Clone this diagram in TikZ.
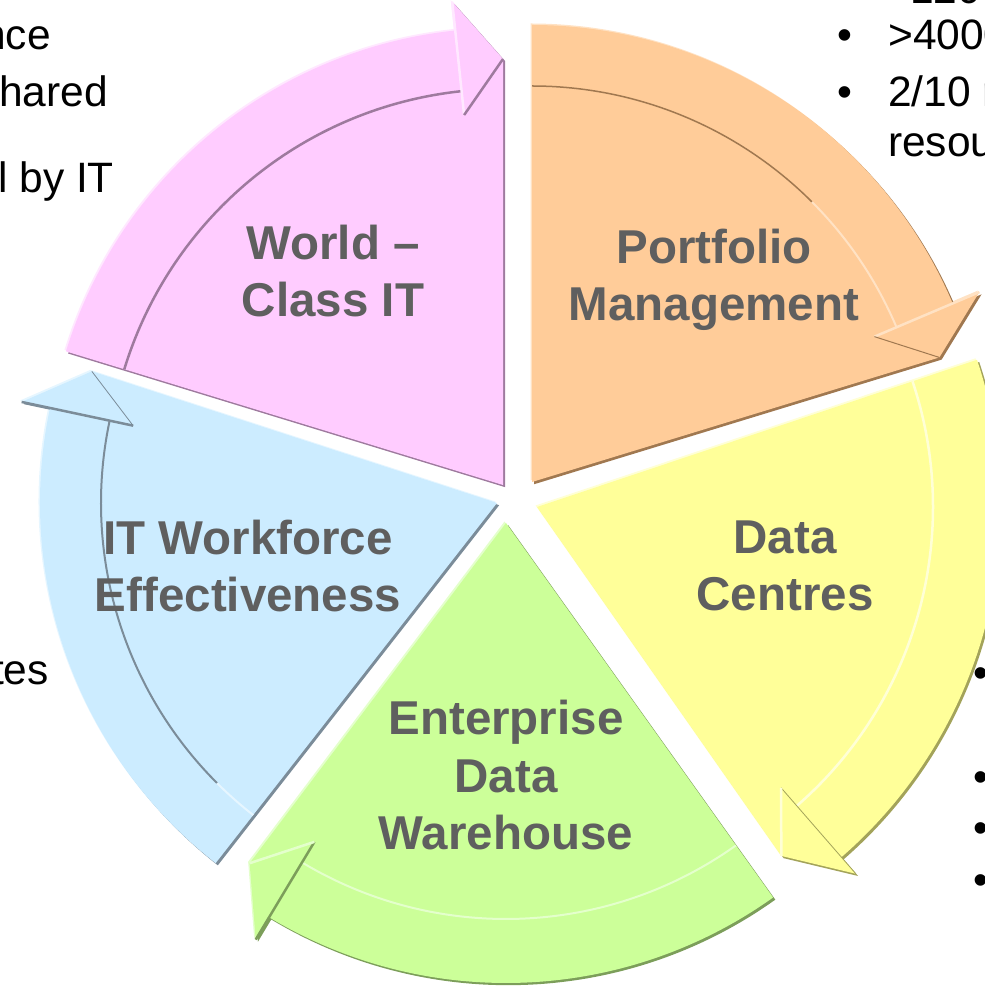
\documentclass[tikz,border=0pt]{standalone}
\usepackage{fontspec}
\setmainfont{Liberation Sans}
\definecolor{pinkfill}{HTML}{FFCCFF}
\definecolor{pinkdark}{HTML}{9E7A9E}
\definecolor{pinklight}{HTML}{FFE8FF}
\definecolor{orangefill}{HTML}{FFCC99}
\definecolor{orangedark}{HTML}{A07850}
\definecolor{orangelight}{HTML}{FFE2C4}
\definecolor{yellowfill}{HTML}{FFFF99}
\definecolor{yellowdark}{HTML}{A3A35A}
\definecolor{yellowlight}{HTML}{FFFFD6}
\definecolor{greenfill}{HTML}{CCFF99}
\definecolor{greendark}{HTML}{7C9E5A}
\definecolor{greenlight}{HTML}{E4FFCC}
\definecolor{bluefill}{HTML}{CCECFF}
\definecolor{bluedark}{HTML}{7B8C99}
\definecolor{bluelight}{HTML}{E6F6FF}
\definecolor{labelgray}{HTML}{5F5F5F}
\def\Rout{457}
\def\Rin{396}
\def\Rt{426}
\def\Rhi{372}
\def\Rho{486}
% #1 = tip angle, #2 = head base angle, #3 = segment start angle
\newcommand\segshape[3]{(0,0) -- (#3:\Rout) arc[start angle=#3, end angle=#2, radius=\Rout] -- (#2:\Rho) -- (#1:\Rt) -- cycle}
\newcommand\cycseg[6]{%
  \fill[#6, shift={(-1.5,1.5)}] \segshape{#1}{#2}{#3};
  \fill[#5, shift={(2.2,-2.2)}] \segshape{#1}{#2}{#3};
  \fill[#4] \segshape{#1}{#2}{#3};
}
\begin{document}
\begin{tikzpicture}[x=1pt,y=1pt,
  lbl/.style={font=\fontsize{47.5}{57.5}\selectfont\bfseries, text=labelgray, align=center, inner sep=0pt},
  side/.style={font=\fontsize{42.5}{50}\selectfont, text=black, inner sep=0pt}]
\useasboundingbox (0,0) rectangle (985,986);
\clip (0,0) rectangle (985,986);

% blue segment
\begin{scope}[shift={(497,483)}]
  \cycseg{162}{168}{232}{bluefill}{bluedark}{bluelight}
  \draw[bluelight, line width=2] (232:\Rin) arc[start angle=232, end angle=225, radius=\Rin];
  \draw[bluedark, line width=2] (225:\Rin) arc[start angle=225, end angle=168, radius=\Rin];
  \draw[bluedark, line width=2.5] (168:\Rhi) -- (168:\Rho);
  \draw[bluedark, line width=0.8] (162:\Rt) -- (168:\Rhi);
\end{scope}

% green segment
\begin{scope}[shift={(506,463)}]
  \def\Rout{460}
  \cycseg{-127}{-121}{-54.5}{greenfill}{greendark}{greenlight}
  \draw[greenlight, line width=2] (-54.5:\Rin) arc[start angle=-54.5, end angle=-121, radius=\Rin];
  \draw[greendark, line width=2.5] (-121:\Rhi) -- (-121:\Rho);
  \draw[greenlight, line width=2.5] (-127:\Rt) -- (-121:\Rhi);
\end{scope}

% yellow segment
\begin{scope}[shift={(537,479)}]
  \def\Rout{464}
  \cycseg{-55}{-49}{18.5}{yellowfill}{yellowdark}{yellowlight}
  \draw[yellowlight, line width=2.5] (18.5:\Rin) arc[start angle=18.5, end angle=-49, radius=\Rin];
  \draw[yellowdark, line width=0.8] (-49:\Rhi) -- (-49:\Rho);
  \draw[yellowlight, line width=2.5] (-55:\Rt) -- (-49:\Rhi);
\end{scope}

% orange segment
\begin{scope}[shift={(532,504)}]
  \cycseg{17}{23}{90}{orangefill}{orangedark}{orangelight}
  \draw[orangedark, line width=1.5] (90:\Rin) arc[start angle=90, end angle=45, radius=\Rin];
  \draw[orangelight, line width=2] (45:\Rin) arc[start angle=45, end angle=23, radius=\Rin];
  \draw[orangelight, line width=2.5] (23:\Rhi) -- (23:\Rho);
  \draw[orangedark, line width=1] (17:\Rt) -- (23:\Rhi);
\end{scope}

% pink segment
\begin{scope}[shift={(503,501)}]
  \cycseg{90}{96}{163}{pinkfill}{pinkdark}{pinklight}
  \draw[pinkdark, line width=2.5] (163:\Rin) arc[start angle=163, end angle=96, radius=\Rin];
  \draw[pinklight, line width=2.5] (96:\Rhi) -- (96:\Rho);
  \draw[pinkdark, line width=2.5] (90:\Rt) -- (96:\Rhi);
\end{scope}

% segment labels
\node[lbl] (wc) at (333,715) {World –\\Class IT};
\node[lbl] (pm) at (714,706) {Portfolio\\Management};
\node[lbl] (dc) at (785,420) {Data\\Centres};
\node[lbl] (ed) at (506,210.5) {Enterprise\\Data\\Warehouse};
\node[lbl] (iw) at (248,420) {IT Workforce\\Effectiveness};

% cut-off side texts
\node[side, anchor=base east] (t1) at (51,936) {nce};
\node[side, anchor=base east] (t2) at (108,879) {hared};
\node[side, anchor=base west] (t3) at (-2,793) {l by IT};
\node[side, anchor=base east] (t4) at (49,301) {tes};
\node[side, anchor=base west] (r0) at (910,982) {120};
\node[side, anchor=base] (rb1) at (845,936) {•};
\node[side, anchor=base west] (r1) at (888,936) {>4000};
\node[side, anchor=base] (rb2) at (845,879) {•};
\node[side, anchor=base west] (r2) at (888,879) {2/10 r};
\node[side, anchor=base west] (r3) at (888,829) {resou};
\node[side, anchor=base] (bb1) at (981,298) {•};
\node[side, anchor=base] (bb2) at (981,194) {•};
\node[side, anchor=base] (bb3) at (981,143) {•};
\node[side, anchor=base] (bb4) at (981,91) {•};
\end{tikzpicture}
\end{document}
